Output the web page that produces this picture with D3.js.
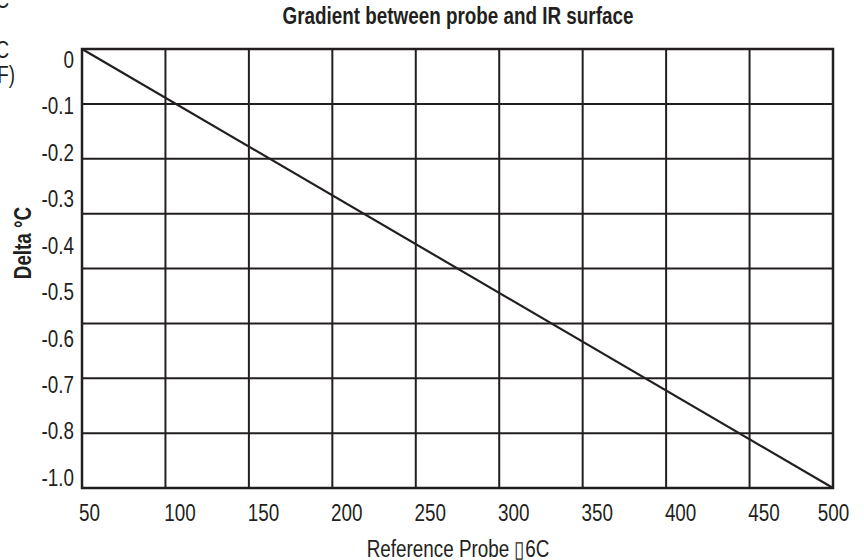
<!DOCTYPE html>
<html>
<head>
<meta charset="utf-8">
<script src="https://cdn.jsdelivr.net/npm/d3@7"></script>
<style>
  body { margin: 0; background: #fff; }
  svg { display: block; font-family: "Liberation Sans", Arial, sans-serif; }
</style>
</head>
<body>
<svg id="chart" width="864" height="560"></svg>
<script>
// data
var xTicks = [50, 100, 150, 200, 250, 300, 350, 400, 450, 500];
var yTickLabels = ["0", "-0.1", "-0.2", "-0.3", "-0.4", "-0.5", "-0.6", "-0.7", "-0.8", "-1.0"];
var probeTemp = [50, 500];
var deltaC = [0, -1.0];
var gridBands = 8; // horizontal bands in the grid

var ink = "#231f20";
var squeeze = 0.82; // no narrow font here, so squeeze the normal one
var svg = d3.select("#chart");

var x = d3.scaleLinear().domain([50, 500]).range([82, 833]);
var y = d3.scaleLinear().domain([-1, 0]).range([488, 49]);

// labels on the left sit evenly, not on the grid lines
var yLab = d3.scalePoint().domain(yTickLabels).range([y(0) + 11, y(-1) - 10]);

// grid
var grid = svg.append("g");
grid.selectAll(".v").data(xTicks).enter().append("line")
    .attr("x1", function(d){ return x(d); })
    .attr("x2", function(d){ return x(d); })
    .attr("y1", y(0)).attr("y2", y(-1))
    .attr("stroke", ink).attr("stroke-width", 2);
grid.selectAll(".h").data(d3.range(gridBands + 1)).enter().append("line")
    .attr("x1", x(50)).attr("x2", x(500))
    .attr("y1", function(i){ return y(-i / gridBands); })
    .attr("y2", function(i){ return y(-i / gridBands); })
    .attr("stroke", ink).attr("stroke-width", 2);
// frame
svg.append("rect")
    .attr("x", x(50)).attr("y", y(0))
    .attr("width", x(500) - x(50)).attr("height", y(-1) - y(0))
    .attr("fill", "none").attr("stroke", ink).attr("stroke-width", 2.5);

// the line
var pts = probeTemp.map(function(t, i){ return [t, deltaC[i]]; });
svg.append("path")
    .datum(pts)
    .attr("d", d3.line().x(function(d){ return x(d[0]); }).y(function(d){ return y(d[1]); }))
    .attr("fill", "none").attr("stroke", ink).attr("stroke-width", 2.2);

// x labels
var xAxis = svg.append("g")
    .attr("transform", "translate(0," + y(-1) + ")")
    .call(d3.axisBottom(x).tickValues(xTicks).tickSize(0).tickPadding(17));
xAxis.select(".domain").remove();
xAxis.selectAll("text")
    .attr("font-size", 23).attr("fill", ink)
    .attr("transform", "scale(" + squeeze + ",1)")
    .attr("dx", function(d, i){ return (i == 0 ? 7 : (i == xTicks.length - 1 ? 0 : 14)) / squeeze; });

// y labels
var yAxis = svg.append("g")
    .attr("transform", "translate(" + x(50) + ",0)")
    .call(d3.axisLeft(yLab).tickSize(0).tickPadding(8 / squeeze));
yAxis.select(".domain").remove();
yAxis.selectAll("text")
    .attr("font-size", 23).attr("fill", ink)
    .attr("transform", "scale(" + squeeze + ",1)");

// helper for squeezed free text
function label(tx, ty, rot, txt, opts) {
  var t = svg.append("text")
    .attr("transform", "translate(" + tx + "," + ty + ") rotate(" + rot + ") scale(" + squeeze + ",1)")
    .attr("text-anchor", opts.anchor || "middle")
    .attr("font-size", 23).attr("fill", ink)
    .text(txt);
  if (opts.bold) t.attr("font-weight", "bold");
  return t;
}

label(458, 24, 0, "Gradient between probe and IR surface", {bold: true});
label(31, 243, -90, "Delta \u00b0C", {bold: true});
label(458, 557, 0, "Reference Probe \u25af6C", {});

// leftovers of a neighbouring label, cut off at the left edge
label(9, 8, 0, "\u00b0C", {anchor: "end"});
label(9, 58, 0, "\u00b0C", {anchor: "end"});
label(15, 83, 0, "(\u00b0F)", {anchor: "end"});
</script>
</body>
</html>
